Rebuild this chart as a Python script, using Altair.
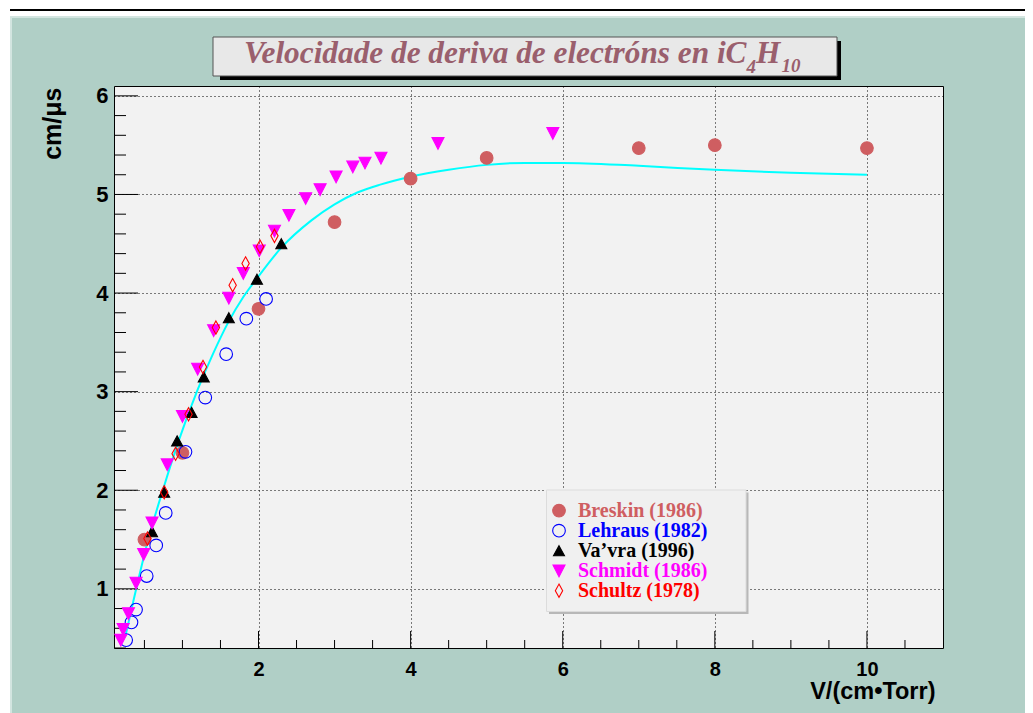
import altair as alt
import pandas as pd

# ---------------- texts ----------------
TITLE_MAIN = "Velocidade de deriva de electróns en iC"
TITLE_SUB1 = "4"
TITLE_MID = "H"
TITLE_SUB2 = "10"
X_TITLE = "V/(cm•Torr)"
Y_TITLE = "cm/μs"

# ---------------- series ----------------
series_names = ["Breskin (1986)", "Lehraus (1982)", "Va’vra (1996)", "Schmidt (1986)", "Schultz (1978)"]
series_colors = ["#cf5e61", "#0000ff", "#000000", "#ff00ff", "#ff0000"]
series_fills = ["#cf5e61", "transparent", "#000000", "#ff00ff", "transparent"]
SHAPE_UP = "M0,-0.8L0.87,0.8L-0.87,0.8Z"
SHAPE_DOWN = "M-0.95,-0.9L0.95,-0.9L0,0.95Z"
SHAPE_DIAMOND = "M0,-1.05L0.58,0L0,1.05L-0.58,0Z"
series_shapes = ["circle", "circle", SHAPE_UP, SHAPE_DOWN, SHAPE_DIAMOND]

breskin_x = [0.5, 1.0, 2.0, 3.0, 4.0, 5.0, 7.0, 8.0, 10.0]
breskin_y = [1.50, 2.38, 3.84, 4.72, 5.16, 5.37, 5.47, 5.50, 5.47]

lehraus_x = [0.26, 0.33, 0.39, 0.53, 0.655, 0.78, 1.04, 1.30, 1.575, 1.84, 2.10]
lehraus_y = [0.48, 0.66, 0.79, 1.13, 1.44, 1.77, 2.39, 2.94, 3.38, 3.74, 3.94]

vavra_x = [0.60, 0.76, 0.93, 1.12, 1.28, 1.61, 1.98, 2.30]
vavra_y = [1.58, 1.98, 2.50, 2.79, 3.15, 3.75, 4.14, 4.50]

schmidt_x = [0.19, 0.22, 0.29, 0.39, 0.49, 0.60, 0.80, 1.00, 1.20, 1.41, 1.61, 1.80,
             2.01, 2.21, 2.40, 2.62, 2.81, 3.02, 3.24, 3.40, 3.61, 4.36, 5.87]
schmidt_y = [0.48, 0.59, 0.75, 1.06, 1.35, 1.67, 2.26, 2.75, 3.23, 3.62, 3.95, 4.20,
             4.43, 4.63, 4.79, 4.96, 5.05, 5.18, 5.28, 5.32, 5.37, 5.52, 5.62]

schultz_x = [0.54, 0.76, 0.91, 1.08, 1.27, 1.44, 1.66, 1.83, 2.02, 2.21]
schultz_y = [1.51, 1.98, 2.37, 2.77, 3.25, 3.65, 4.08, 4.30, 4.47, 4.58]

# fitted curve (cyan)
curve_x = [0.25, 0.35, 0.55, 0.75, 0.95, 1.2, 1.4, 1.6, 1.8, 2.0, 2.3, 2.7, 3.0, 3.3,
           3.6, 4.0, 4.5, 5.0, 5.5, 6.0, 7.0, 8.0, 9.0, 10.0]
curve_y = [0.52, 0.86, 1.50, 2.02, 2.50, 3.02, 3.38, 3.70, 3.96, 4.17, 4.46, 4.74, 4.90, 5.02,
           5.10, 5.18, 5.25, 5.30, 5.32, 5.32, 5.29, 5.25, 5.22, 5.20]

# axis ticks
x_major = [2, 4, 6, 8, 10]
x_minor = [0.5 * i for i in range(1, 22) if (0.5 * i) % 2 != 0]
y_major = [1, 2, 3, 4, 5, 6]
y_minor = [round(0.4 + 0.2 * i, 1) for i in range(29) if abs(0.4 + 0.2 * i - round(0.4 + 0.2 * i)) > 1e-6]

# ---------------- tables ----------------
pts = pd.concat([
    pd.DataFrame({"x": breskin_x, "y": breskin_y, "series": series_names[0]}),
    pd.DataFrame({"x": lehraus_x, "y": lehraus_y, "series": series_names[1]}),
    pd.DataFrame({"x": vavra_x, "y": vavra_y, "series": series_names[2]}),
    pd.DataFrame({"x": schmidt_x, "y": schmidt_y, "series": series_names[3]}),
    pd.DataFrame({"x": schultz_x, "y": schultz_y, "series": series_names[4]}),
], ignore_index=True)
curve = pd.DataFrame({"x": curve_x, "y": curve_y})
leg = pd.DataFrame({"series": series_names, "row": list(range(len(series_names)))})

W, H = 829, 562
PAD_L, PAD_T, PAD_R, PAD_B = 106, 78, 82, 65
SANS = "Liberation Sans"
SERIF = "Liberation Serif"
TEAL = "#b0cfc6"

x_scale = alt.Scale(domain=[0.1, 11], nice=False, zero=False)
y_scale = alt.Scale(domain=[0.4, 6.1], nice=False, zero=False)

x_axis = alt.Axis(values=x_major, grid=True, gridColor="black", gridDash=[1, 3], gridWidth=1,
                  domain=False, ticks=False, tickSize=0, labelFlush=False,
                  labelFont=SANS, labelFontWeight="bold", labelFontSize=20, labelColor="black",
                  labelBaseline="middle", labelPadding=21, format="d",
                  title=X_TITLE, titleFont=SANS, titleFontWeight="bold", titleFontSize=23.5,
                  titleColor="black", titleAlign="right", titleBaseline="middle",
                  titleX=821, titleY=43)
y_axis = alt.Axis(values=y_major, grid=True, gridColor="black", gridDash=[1, 3], gridWidth=1,
                  domain=False, ticks=False, tickSize=0, labelFlush=False,
                  labelFont=SANS, labelFontWeight="bold", labelFontSize=22, labelColor="black",
                  labelPadding=6, format="d",
                  title=Y_TITLE, titleFont=SANS, titleFontWeight="bold", titleFontSize=25,
                  titleColor="black", titleAngle=270, titleAlign="right", titleBaseline="middle",
                  titleX=-62, titleY=1)


def X(f):
    return alt.X(f, type="quantitative", scale=x_scale, axis=x_axis)


def Y(f):
    return alt.Y(f, type="quantitative", scale=y_scale, axis=y_axis)


shape_enc = alt.Shape("series:N", scale=alt.Scale(domain=series_names, range=series_shapes), legend=None)
fill_enc = alt.Fill("series:N", scale=alt.Scale(domain=series_names, range=series_fills), legend=None)
stroke_enc = alt.Stroke("series:N", scale=alt.Scale(domain=series_names, range=series_colors), legend=None)

one = alt.Data(values=[{}])


def box(x1, x2, y1, y2, **kw):
    return alt.Chart(one).mark_rect(**kw).encode(
        x=alt.value(x1), x2=alt.value(x2), y=alt.value(y1), y2=alt.value(y2))


# page decorations (outside plot area)
top_white = box(-106, 919, -78, -70, color="white")
top_line = box(-104, 919, -77, -75, color="black")
left_white = box(-106, -104, -70, 627, color="white")
left_light = box(-104, -102, -70, 627, color="#d3e5e0")
top_light = box(-104, 919, -70, -68, color="#d3e5e0")

# title box
title_shadow = box(106, 727, -45, -6, color="black")
title_box = box(99, 723, -49, -10, fill="#e8e8e8", stroke="#555555", strokeWidth=1)
title_color = "#9a5f6d"
tkw = dict(font=SERIF, fontStyle="italic", fontWeight="bold", color=title_color,
           baseline="alphabetic")
t_main = alt.Chart(one).mark_text(text=TITLE_MAIN, fontSize=31.3, align="right", **tkw).encode(
    x=alt.value(632.5), y=alt.value(-23.5))
t_sub1 = alt.Chart(one).mark_text(text=TITLE_SUB1, fontSize=19, align="left", **tkw).encode(
    x=alt.value(632.5), y=alt.value(-13.5))
t_mid = alt.Chart(one).mark_text(text=TITLE_MID, fontSize=31.3, align="left", **tkw).encode(
    x=alt.value(642), y=alt.value(-23.5))
t_sub2 = alt.Chart(one).mark_text(text=TITLE_SUB2, fontSize=19, align="left", **tkw).encode(
    x=alt.value(667.5), y=alt.value(-14.5))


# ticks (drawn inside the frame)
def tick_y(vals, length):
    return alt.Chart(pd.DataFrame({"y": vals})).mark_rule(color="black", strokeWidth=1).encode(
        y=Y("y"), x=alt.value(0), x2=alt.value(length))


def tick_x(vals, length):
    return alt.Chart(pd.DataFrame({"x": vals})).mark_rule(color="black", strokeWidth=1).encode(
        x=X("x"), y=alt.value(H), y2=alt.value(H - length))


line = alt.Chart(curve).mark_line(color="#00ffff", strokeWidth=2, interpolate="monotone").encode(
    x=X("x"), y=Y("y"))

points = alt.Chart(pts).mark_point(filled=True, opacity=1, size=160, strokeWidth=1.1).encode(
    x=X("x"), y=Y("y"), shape=shape_enc, fill=fill_enc, stroke=stroke_enc)

# legend
leg_shadow = box(435, 634.5, 406.5, 528, color="#b8b8b8")
leg_box = box(432.5, 632, 404, 525.5, fill="#f0f0f0", stroke="#dcdcdc", strokeWidth=1)
leg_pts = alt.Chart(leg).transform_calculate(ly="424.7 + datum.row * 20").mark_point(
    filled=True, opacity=1, size=160, strokeWidth=1.1).encode(
    x=alt.value(445), y=alt.Y("ly:Q", scale=None), shape=shape_enc, fill=fill_enc, stroke=stroke_enc)
leg_txt = alt.Chart(leg).transform_calculate(ly="424.7 + datum.row * 20").mark_text(
    font=SERIF, fontWeight="bold", fontSize=20, align="left", baseline="middle").encode(
    x=alt.value(464), y=alt.Y("ly:Q", scale=None), text="series:N",
    color=alt.Color("series:N", scale=alt.Scale(domain=series_names, range=series_colors), legend=None))

chart = alt.layer(
    top_white, top_line, left_white, left_light, top_light,
    title_shadow, title_box, t_main, t_sub1, t_mid, t_sub2,
    line,
    tick_y(y_major, 24), tick_y(y_minor, 12), tick_x(x_major, 17), tick_x(x_minor, 8),
    points,
    leg_shadow, leg_box, leg_pts, leg_txt,
).properties(
    width=W, height=H,
    autosize=alt.AutoSizeParams(type="none"),
    padding={"left": PAD_L, "top": PAD_T, "right": PAD_R, "bottom": PAD_B},
    background=TEAL,
).configure_view(fill="#f2f2f2", stroke="black", strokeWidth=1)

chart.save("out.html", embed_options={"renderer": "svg", "actions": False})
